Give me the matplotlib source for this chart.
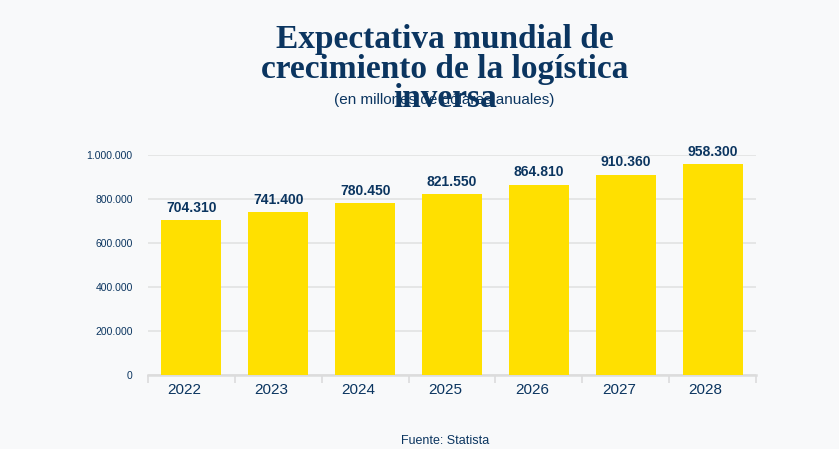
import matplotlib
matplotlib.use("Agg")
import matplotlib.pyplot as plt
import matplotlib.transforms as mtransforms
import numpy as np

years = ["2022", "2023", "2024", "2025", "2026", "2027", "2028"]
values = [704310, 741400, 780450, 821550, 864810, 910360, 958300]
yticks = [0, 200000, 400000, 600000, 800000, 1000000]
title_lines = ["Expectativa mundial de", "crecimiento de la logística", "inversa"]

navy = "#0b3560"
yellow = "#ffe000"
bg = "#f8f9fa"


def fmt(v):
    # thousands separated with dots, as in the source
    return f"{v:,}".replace(",", ".")


fig = plt.figure(figsize=(8.39, 4.49), dpi=100, facecolor=bg)
ax = fig.add_axes([0.1764, 0.1648, 0.7247, 0.49])
ax.set_facecolor(bg)

x = np.arange(len(years))
ax.bar(x, values, width=0.69, color=yellow, zorder=3)

for xi, v in zip(x, values):
    ax.text(xi, v + 24000, fmt(v), ha="center", va="bottom", fontsize=10,
            fontweight="bold", color=navy, family="Liberation Sans")

ax.set_xlim(-0.5, len(years) - 0.5)
ax.set_ylim(0, 1000000)
ax.set_yticks(yticks)
ax.set_yticklabels([fmt(t) for t in yticks], fontsize=7.5, color=navy,
                   family="Liberation Sans")
ax.tick_params(axis="y", length=0, pad=11)

ax.set_xticks(x)
ax.set_xticklabels(years, fontsize=11, color=navy, family="Liberation Sans")
ax.set_xticks(np.arange(-0.5, len(years)), minor=True)
ax.tick_params(axis="x", which="major", length=0, pad=6)
ax.tick_params(axis="x", which="minor", length=6, color="#dcdcdc", width=1.2)

# the year labels sit a little left of the bar centres in the source
shift = mtransforms.ScaledTranslation(-0.07, 0, fig.dpi_scale_trans)
for lbl in ax.get_xticklabels():
    lbl.set_transform(lbl.get_transform() + shift)

ax.grid(axis="y", color="#e4e4e4", linewidth=1.3, zorder=0)
for s in ["top", "right", "left"]:
    ax.spines[s].set_visible(False)
ax.spines["bottom"].set_color("#dcdcdc")
ax.spines["bottom"].set_linewidth(1.8)

# title lines placed one by one (the third one sits on the subtitle, as in the source)
for line, yb in zip(title_lines, [0.893, 0.826, 0.762]):
    fig.text(0.53, yb, line, ha="center", va="baseline", fontsize=24,
             fontweight="bold", color=navy, family="Liberation Serif")
fig.text(0.53, 0.777, "(en millones de dólares anuales)", ha="center",
         va="center", fontsize=11, color=navy, family="Liberation Sans")
fig.text(0.531, 0.018, "Fuente: Statista", ha="center", va="center",
         fontsize=9, color=navy, family="Liberation Sans")

fig.savefig("out.png", dpi=100, facecolor=bg)
